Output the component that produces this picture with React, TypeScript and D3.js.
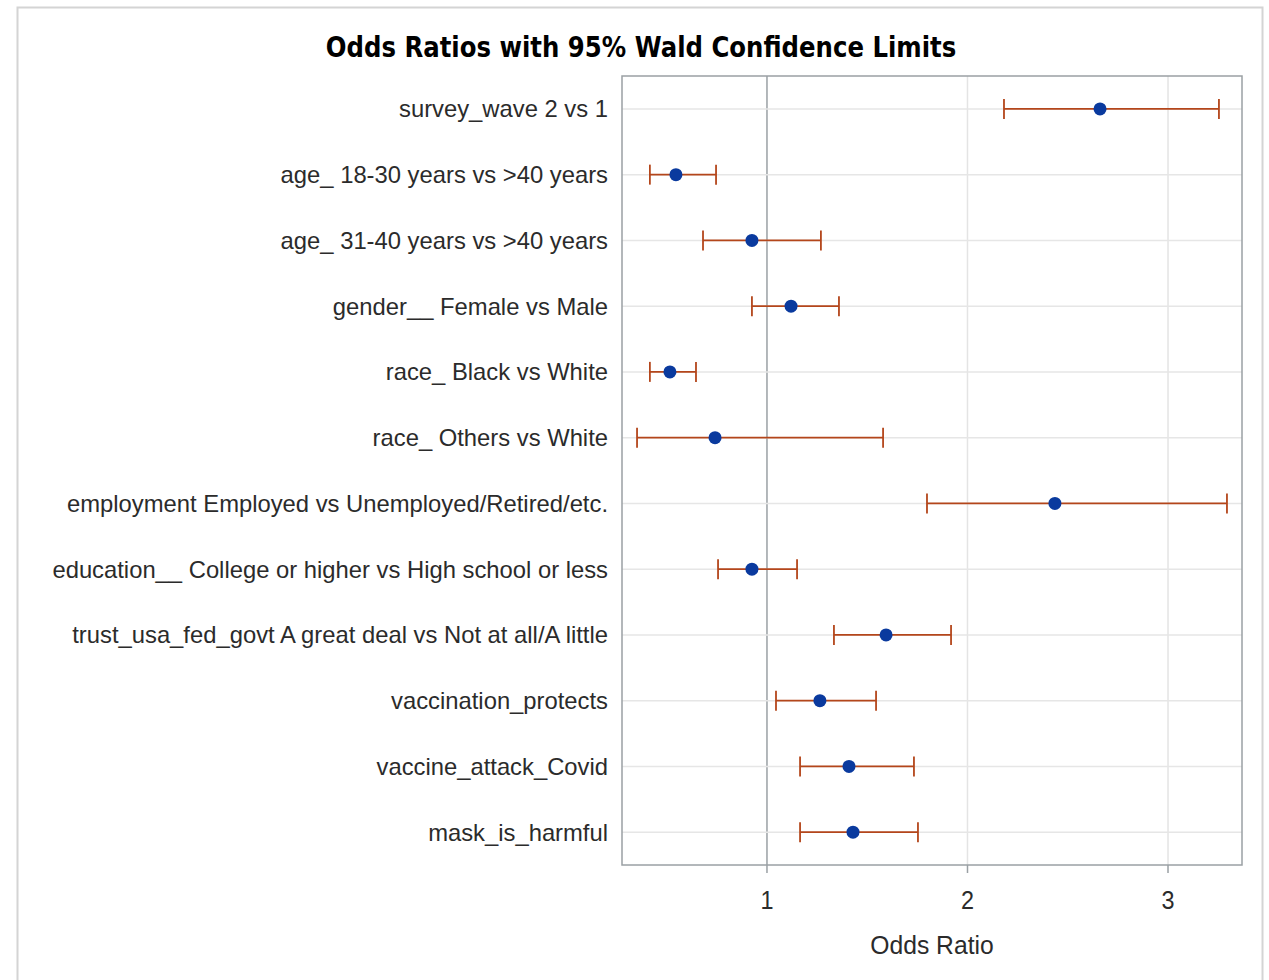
import React from "react";
import * as d3 from "d3";

const labels = [
  "survey_wave 2 vs 1",
  "age_ 18-30 years vs >40 years",
  "age_ 31-40 years vs >40 years",
  "gender__ Female vs Male",
  "race_ Black vs White",
  "race_ Others vs White",
  "employment Employed vs Unemployed/Retired/etc.",
  "education__ College or higher vs High school or less",
  "trust_usa_fed_govt A great deal vs Not at all/A little",
  "vaccination_protects",
  "vaccine_attack_Covid",
  "mask_is_harmful",
];
const oddsRatio = [2.661, 0.546, 0.925, 1.12, 0.516, 0.741, 2.436, 0.925, 1.594, 1.264, 1.409, 1.429];
const lower = [2.182, 0.416, 0.681, 0.925, 0.416, 0.352, 1.798, 0.756, 1.334, 1.045, 1.165, 1.165];
const upper = [3.254, 0.746, 1.269, 1.359, 0.646, 1.579, 3.294, 1.15, 1.918, 1.544, 1.733, 1.753];
const xTicks = [1, 2, 3];

export default function App() {
  const W = 1269, H = 980;
  const left = 622, right = 1242, top = 76, bottom = 865;
  const x = d3.scaleLinear().domain([0.277, 3.369]).range([left, right]);
  const y = d3.scaleBand().domain(labels).range([top, bottom]).padding(0);
  const yc = (l: string) => (y(l) as number) + y.bandwidth() / 2;
  const errColor = "#B4461B";
  const ptColor = "#0A3A9E";
  const font = "'Liberation Sans', Arial, sans-serif";
  const txt = "#2b2b2b";
  return (
    <svg width={W} height={H} style={{ position: "absolute", left: 0, top: 0, background: "#fff" }}>
      <rect x={17.5} y={7.5} width={1245} height={990} fill="#fff" stroke="#d4d4d4" strokeWidth={2} />
      <g transform="translate(641,57) scale(1,1.15)">
        <text x={0} y={0} textAnchor="middle" fontFamily="'DejaVu Sans', Verdana, sans-serif" fontWeight="bold" fontSize={24.4} fill="#000">
          Odds Ratios with 95% Wald Confidence Limits
        </text>
      </g>
      {xTicks.map((t) => (
        <line key={"g" + t} x1={x(t)} x2={x(t)} y1={top} y2={bottom} stroke={t === 1 ? "#9aa0a4" : "#e4e4e4"} strokeWidth={1.5} />
      ))}
      {labels.map((l) => (
        <line key={"h" + l} x1={left} x2={right} y1={yc(l)} y2={yc(l)} stroke="#e6e6e6" strokeWidth={1.5} />
      ))}
      <rect x={left} y={top} width={right - left} height={bottom - top} fill="none" stroke="#9aa0a4" strokeWidth={1.5} />
      {labels.map((l, i) => {
        const cy = yc(l);
        return (
          <g key={"m" + l}>
            <line x1={x(lower[i])} x2={x(upper[i])} y1={cy} y2={cy} stroke={errColor} strokeWidth={1.8} />
            <line x1={x(lower[i])} x2={x(lower[i])} y1={cy - 10} y2={cy + 10} stroke={errColor} strokeWidth={1.8} />
            <line x1={x(upper[i])} x2={x(upper[i])} y1={cy - 10} y2={cy + 10} stroke={errColor} strokeWidth={1.8} />
            <circle cx={x(oddsRatio[i])} cy={cy} r={6.5} fill={ptColor} />
            <text x={608} y={cy} dy="0.36em" textAnchor="end" fontFamily={font} fontSize={23.8} fill={txt}>
              {l}
            </text>
          </g>
        );
      })}
      {xTicks.map((t) => (
        <g key={"t" + t}>
          <line x1={x(t)} x2={x(t)} y1={bottom} y2={bottom + 8} stroke="#9aa0a4" strokeWidth={1.5} />
          <g transform={`translate(${x(t)},909) scale(0.9,1)`}>
            <text x={0} y={0} textAnchor="middle" fontFamily={font} fontSize={26} fill={txt}>
              {t}
            </text>
          </g>
        </g>
      ))}
      <g transform="translate(932,954) scale(0.95,1)">
        <text x={0} y={0} textAnchor="middle" fontFamily={font} fontSize={26} fill={txt}>
          Odds Ratio
        </text>
      </g>
    </svg>
  );
}
